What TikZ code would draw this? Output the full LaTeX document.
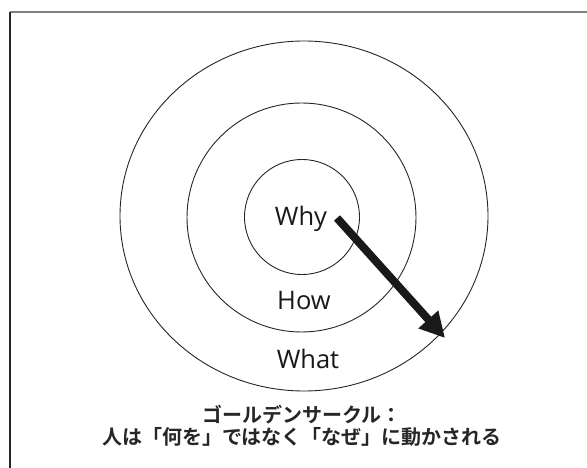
\documentclass[tikz,border=0pt]{standalone}
\usepackage{fontspec}
\setmainfont{Open Sans}
\newfontfamily\jpfont{Noto Sans CJK JP}[BoldFont={Noto Sans CJK JP Bold}]
\usetikzlibrary{arrows.meta}
\begin{document}
\begin{tikzpicture}[x=1pt,y=-1pt,
  ring/.style={draw=black!85,line width=0.9pt},
  lbl/.style={font=\fontsize{25.5}{27}\selectfont,text=black!90,inner sep=0pt},
  captext/.style={font=\jpfont\bfseries\fontsize{20}{22}\selectfont,text=black!85,align=center,inner sep=0pt},
  bigarrow/.style={line width=8pt,draw=black!90,-{Triangle[length=25pt,width=25pt]}}]
\useasboundingbox (0,0) rectangle (587,468);
\fill[white] (0,0) rectangle (587,468);
% frame
\draw[black!50,line width=1.4pt] (10,12) -- (587,12);
\draw[black!85,line width=1.2pt] (10,12) -- (10,468);
% circles
\draw[ring] (304,216) ellipse [x radius=184, y radius=175];
\draw[ring] (301.5,217.5) circle [radius=114.5];
\draw[ring] (302,217) circle [radius=57.5];
% labels
\node[lbl] (why) at (301,219) {Why};
\node[lbl] (how) at (304,301) {How};
\node[lbl] (what) at (308,359) {What};
% arrow
\coordinate (tail) at (337,218);
\coordinate (tip) at (445,338);
\draw[bigarrow] (tail) -- (tip);
% caption
\node[captext] (caption) at (302,426) {ゴールデンサークル：\\人は「何を」ではなく「なぜ」に動かされる};
\end{tikzpicture}
\end{document}
